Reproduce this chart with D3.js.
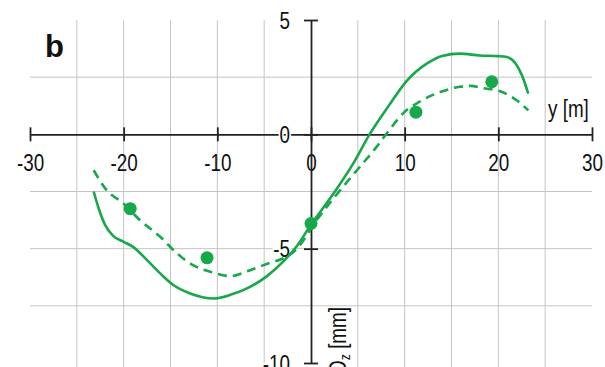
<!DOCTYPE html>
<html>
<head>
<meta charset="utf-8">
<script src="https://cdn.jsdelivr.net/npm/d3@7"></script>
<style>
  html, body { margin: 0; padding: 0; background: #fff; }
  svg { display: block; }
  text { font-family: "Liberation Sans", Arial, sans-serif; fill: #111; }
</style>
</head>
<body>
<svg id="chart" width="605" height="367"></svg>
<script>
// Lateral position y [m] against vertical displacement Dz [mm]
const solidLine = [
  [-23.2, -2.5], [-22.7, -3.2], [-22.0, -3.95], [-21.1, -4.45], [-20.0, -4.7],
  [-19.0, -4.92], [-17.5, -5.5], [-16.1, -6.08], [-14.7, -6.59], [-12.9, -6.96],
  [-10.4, -7.18], [-8.6, -7.02], [-6.5, -6.67], [-4.7, -6.2], [-3.0, -5.58],
  [-1.5, -4.88], [0, -3.95], [2.4, -2.59], [4.5, -1.28], [6.3, 0.03],
  [8.2, 1.19], [10.2, 2.33], [12.35, 3.09], [14.0, 3.43], [15.9, 3.53],
  [18.0, 3.45], [20.0, 3.42], [20.9, 3.38], [21.8, 3.12], [22.5, 2.6],
  [23.2, 1.78]
];
const dashedLine = [
  [-23.2, -1.57], [-21.8, -2.45], [-20.0, -3.03], [-18.25, -3.76], [-16.1, -4.48],
  [-14.3, -5.21], [-12.6, -5.72], [-10.4, -6.05], [-8.6, -6.2], [-6.5, -5.94],
  [-4.4, -5.62], [-3.0, -5.43], [-1.5, -5.0], [0.6, -3.75], [3.1, -2.45],
  [5.2, -1.43], [7.0, -0.55], [8.3, 0.15], [9.85, 0.93], [11.6, 1.43],
  [13.8, 1.85], [15.9, 2.08], [17.0, 2.12], [18.4, 2.02], [20.2, 1.88],
  [22.0, 1.48], [23.2, 1.05]
];
const measured = [
  [-19.3, -3.25], [-11.1, -5.4], [0, -3.9], [11.2, 0.97], [19.3, 2.3]
];
const xTicks = [-30, -20, -10, 0, 10, 20, 30];
const yTicks = [5, 0, -5, -10];
const xGrid = [-25, -20, -15, -10, -5, 5, 10, 15, 20, 25];
const yGrid = [2.5, -2.5, -5, -7.5];

const green = "#17a84b";
const narrow = 0.82;   // horizontal squeeze giving a condensed face
const svg = d3.select("#chart");
const x = d3.scaleLinear().domain([-30, 30]).range([30, 592]);
const y = d3.scaleLinear().domain([-10, 5]).range([363, 20]);
const fmt = d => String(d);

// grid
const grid = svg.append("g").attr("stroke", "#c4c4c4").attr("stroke-width", 1);
grid.selectAll("line.v").data(xGrid).join("line")
  .attr("x1", d => x(d)).attr("x2", d => x(d))
  .attr("y1", y(5)).attr("y2", 367);
grid.selectAll("line.h").data(yGrid).join("line")
  .attr("x1", x(-30)).attr("x2", x(30))
  .attr("y1", d => y(d)).attr("y2", d => y(d));

// axes crossing at the origin
const xAxis = d3.axisBottom(x).tickValues(xTicks).tickSize(0).tickFormat(() => "");
const gx = svg.append("g").attr("transform", `translate(0,${y(0)})`).call(xAxis);
gx.select(".domain").attr("stroke", "#222").attr("stroke-width", 1.8);
gx.selectAll(".tick text").remove();
gx.selectAll(".tick").append("line")
  .attr("y1", -7).attr("y2", 7).attr("stroke", "#222").attr("stroke-width", 1.8);
gx.selectAll(".tick").append("text")
  .attr("transform", `translate(0,37) scale(${narrow},1)`)
  .attr("text-anchor", "middle").attr("font-size", 23)
  .text(fmt);

const yAxis = d3.axisLeft(y).tickValues(yTicks).tickSize(0).tickFormat(() => "");
const gy = svg.append("g").attr("transform", `translate(${x(0)},0)`).call(yAxis);
gy.select(".domain").attr("stroke", "#222").attr("stroke-width", 1.8);
gy.selectAll(".tick text").remove();
gy.selectAll(".tick").append("line")
  .attr("x1", -7).attr("x2", 7).attr("stroke", "#222").attr("stroke-width", 1.8);
gy.selectAll(".tick").append("text")
  .attr("transform", `translate(-21,8) scale(${narrow},1)`)
  .attr("text-anchor", "end").attr("font-size", 23)
  .attr("stroke", "#fff").attr("stroke-width", 4).attr("paint-order", "stroke")
  .text(fmt);

// curves
const line = d3.line().x(d => x(d[0])).y(d => y(d[1])).curve(d3.curveMonotoneX);
svg.append("path").datum(solidLine).attr("d", line)
  .attr("fill", "none").attr("stroke", green).attr("stroke-width", 2.6);
svg.append("path").datum(dashedLine).attr("d", line)
  .attr("fill", "none").attr("stroke", green).attr("stroke-width", 2.6)
  .attr("stroke-dasharray", "9,6");

// measured points
svg.append("g").selectAll("circle").data(measured).join("circle")
  .attr("cx", d => x(d[0])).attr("cy", d => y(d[1])).attr("r", 6.5)
  .attr("fill", green);

// axis titles
svg.append("text").attr("transform", `translate(548,117) scale(${narrow},1)`)
  .attr("font-size", 23).text("y [m]");
const yt = svg.append("text")
  .attr("transform", `translate(346,307) rotate(-90) scale(${narrow},1)`)
  .attr("text-anchor", "end").attr("font-size", 23);
yt.append("tspan").text("D");
yt.append("tspan").attr("font-size", 15).attr("dy", 4).text("z");
yt.append("tspan").attr("dy", -4).text(" [mm]");

// panel letter
svg.append("text").attr("x", 45).attr("y", 57)
  .attr("font-weight", "bold").attr("font-size", 31).text("b");
</script>
</body>
</html>
